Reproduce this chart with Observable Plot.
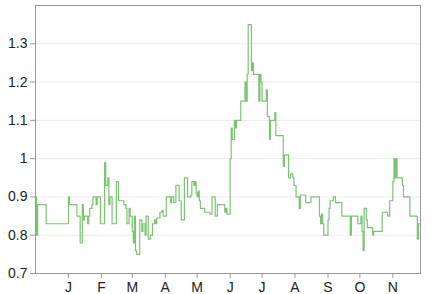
<!DOCTYPE html>
<html>
<head>
<meta charset="utf-8">
<script src="https://cdn.jsdelivr.net/npm/d3@7"></script>
<script src="https://cdn.jsdelivr.net/npm/@observablehq/plot@0.6"></script>
<style>
  html, body { margin: 0; padding: 0; background: #fff; }
  #chart { width: 433px; height: 294px; }
</style>
</head>
<body>
<div id="chart"></div>
<script>
const dates = [
  "2011-12-01","2011-12-02","2011-12-03","2011-12-11","2012-01-01","2012-01-02","2012-01-09","2012-01-12",
  "2012-01-14","2012-01-15","2012-01-16","2012-01-19","2012-01-20","2012-01-21","2012-01-23","2012-01-24",
  "2012-01-27","2012-01-28","2012-01-31","2012-02-04","2012-02-05","2012-02-07","2012-02-08","2012-02-09",
  "2012-02-11","2012-02-15","2012-02-17","2012-02-22","2012-02-24","2012-02-25","2012-02-27","2012-02-28",
  "2012-03-01","2012-03-02","2012-03-03","2012-03-04","2012-03-05","2012-03-08","2012-03-10","2012-03-11",
  "2012-03-13","2012-03-14","2012-03-16","2012-03-18","2012-03-20","2012-03-22","2012-03-23","2012-03-24",
  "2012-03-27","2012-03-29","2012-03-30","2012-04-02","2012-04-06","2012-04-07","2012-04-09","2012-04-11",
  "2012-04-14","2012-04-16","2012-04-19","2012-04-22","2012-04-25","2012-04-26","2012-04-28","2012-04-29",
  "2012-04-30","2012-05-01","2012-05-02","2012-05-03","2012-05-04","2012-05-08","2012-05-13","2012-05-15",
  "2012-05-18","2012-05-20","2012-05-27","2012-05-28","2012-05-29","2012-06-01","2012-06-02","2012-06-03",
  "2012-06-05","2012-06-06","2012-06-07","2012-06-11","2012-06-15","2012-06-16","2012-06-17","2012-06-18",
  "2012-06-21","2012-06-22","2012-06-23","2012-06-28","2012-06-29","2012-06-30","2012-07-01","2012-07-05",
  "2012-07-06","2012-07-08","2012-07-09","2012-07-13","2012-07-14","2012-07-21","2012-07-22","2012-07-26",
  "2012-07-28","2012-07-30","2012-07-31","2012-08-02","2012-08-05","2012-08-06","2012-08-11","2012-08-16",
  "2012-08-24","2012-08-25","2012-08-26","2012-08-27","2012-08-28","2012-09-01","2012-09-02","2012-09-03",
  "2012-09-06","2012-09-08","2012-09-14","2012-09-22","2012-09-23","2012-09-29","2012-10-02","2012-10-03",
  "2012-10-04","2012-10-05","2012-10-07","2012-10-08","2012-10-13","2012-10-14","2012-10-22","2012-10-27",
  "2012-10-29","2012-11-01","2012-11-02","2012-11-03","2012-11-04","2012-11-05","2012-11-10","2012-11-11",
  "2012-11-17","2012-11-24","2012-11-25","2012-11-27"
];
const values = [
  0.90,0.80,0.88,0.83,0.90,0.88,0.85,0.78,
  0.88,0.84,0.85,0.83,0.85,0.87,0.88,0.90,
  0.88,0.90,0.83,0.99,0.93,0.95,0.88,0.90,
  0.83,0.94,0.89,0.88,0.87,0.83,0.87,0.85,
  0.81,0.78,0.85,0.76,0.75,0.84,0.81,0.83,
  0.80,0.85,0.79,0.80,0.83,0.84,0.83,0.845,
  0.86,0.865,0.85,0.90,0.885,0.90,0.885,0.93,
  0.89,0.84,0.95,0.90,0.905,0.94,0.93,0.94,
  0.91,0.90,0.915,0.89,0.87,0.86,0.855,0.90,
  0.85,0.88,0.86,0.87,0.855,1.00,1.08,1.05,
  1.10,1.08,1.10,1.15,1.20,1.15,1.22,1.35,
  1.23,1.25,1.22,1.15,1.22,1.20,1.15,1.18,
  1.11,1.05,1.10,1.12,1.06,0.98,1.01,0.95,
  0.96,0.95,0.93,0.90,0.87,0.905,0.885,0.90,
  0.85,0.83,0.855,0.83,0.80,0.84,0.87,0.89,
  0.90,0.885,0.85,0.80,0.85,0.83,0.85,0.81,
  0.76,0.87,0.84,0.82,0.80,0.81,0.86,0.85,
  0.89,0.94,1.00,0.95,1.00,0.95,0.93,0.90,
  0.85,0.79,0.83,0.83
];
const yTicks = [0.7, 0.8, 0.9, 1, 1.1, 1.2, 1.3];
const yTickLabels = ["0.7", "0.8", "0.9", "1", "1.1", "1.2", "1.3"];
const monthTicks = ["2012-01-01","2012-02-01","2012-03-01","2012-04-01","2012-05-01","2012-06-01",
                    "2012-07-01","2012-08-01","2012-09-01","2012-10-01","2012-11-01"];
const monthLabels = ["J","F","M","A","M","J","J","A","S","O","N"];
const yDomain = [0.7, 1.4];

const rows = dates.map((d, i) => ({date: new Date(d), value: values[i]}));
const xTickDates = monthTicks.map(d => new Date(d));
const xLabelMap = new Map(xTickDates.map((d, i) => [+d, monthLabels[i]]));
const yLabelMap = new Map(yTicks.map((v, i) => [v, yTickLabels[i]]));

const chart = Plot.plot({
  width: 433,
  height: 294,
  marginLeft: 35,
  marginRight: 13,
  marginTop: 5,
  marginBottom: 21,
  style: {fontFamily: "'Liberation Sans', Arial, sans-serif", fontSize: "14px", color: "#222", background: "#fff"},
  x: {type: "utc", domain: [rows[0].date, rows[rows.length - 1].date]},
  y: {domain: yDomain},
  marks: [
    Plot.gridY(yTicks, {stroke: "#ebebeb", strokeOpacity: 1}),
    Plot.axisY(yTicks, {tickSize: 5, tickPadding: 3, stroke: "#999", fill: "#222", fontSize: 14,
                        tickFormat: v => yLabelMap.get(v), label: null}),
    Plot.axisX(xTickDates, {tickSize: 5, tickPadding: 4, stroke: "#999", fill: "#222", fontSize: 14,
                        tickFormat: d => xLabelMap.get(+d), label: null}),
    Plot.lineY(rows, {x: "date", y: "value", curve: "step-after", stroke: "#7cc474", strokeWidth: 1.2}),
    Plot.frame({stroke: "#999"})
  ]
});
document.getElementById("chart").appendChild(chart);
</script>
</body>
</html>
